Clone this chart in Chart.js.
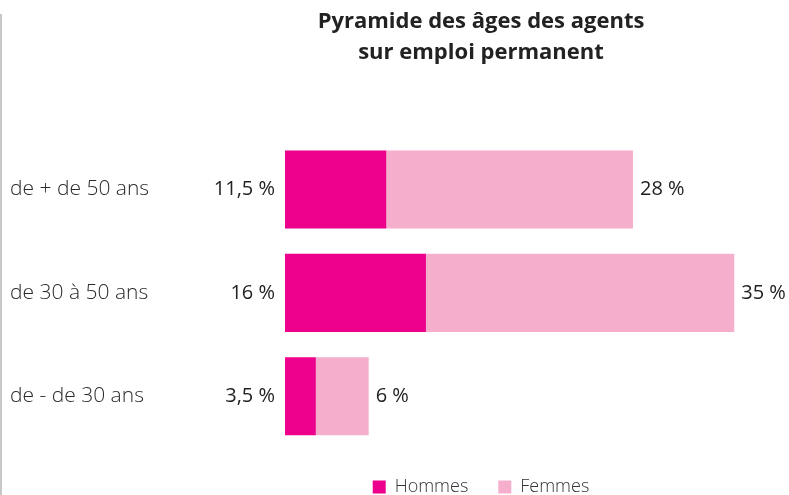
<!DOCTYPE html>
<html>
<head>
<meta charset="utf-8">
<script src="https://cdn.jsdelivr.net/npm/chart.js@4"></script>
<style>
  body { margin: 0; background: #fff; }
  #wrap { position: relative; width: 789px; height: 495px; }
  #rule { position: absolute; left: 0; top: 14px; bottom: 0; width: 2px; background: #c8c8c8; }
</style>
</head>
<body>
<div id="wrap">
  <div id="rule"></div>
  <canvas id="pyramide" width="789" height="495"></canvas>
</div>
<script>
const categories = ['de + de 50 ans', 'de 30 à 50 ans', 'de - de 30 ans'];
const hommes = [11.5, 16, 3.5];
const femmes = [28, 35, 6];
const titleLines = ['Pyramide des âges des agents', 'sur emploi permanent'];

const FONT = "'Open Sans', sans-serif";

function fmt(v) {
    return String(v).replace('.', ',') + ' %';
}

// valeurs à gauche (hommes) et à droite (femmes) des barres
const valueLabels = {
    id: 'valueLabels',
    afterDatasetsDraw(chart) {
        const ctx = chart.ctx;
        const mH = chart.getDatasetMeta(0);
        const mF = chart.getDatasetMeta(1);
        ctx.save();
        ctx.font = '20px ' + FONT;
        ctx.fillStyle = '#222';
        ctx.textBaseline = 'middle';
        mH.data.forEach((bar, i) => {
            ctx.textAlign = 'right';
            ctx.fillText(fmt(hommes[i]), bar.base - 10, bar.y);
        });
        mF.data.forEach((bar, i) => {
            ctx.textAlign = 'left';
            ctx.fillText(fmt(femmes[i]), bar.x + 7, bar.y);
        });
        ctx.restore();
    }
};

new Chart(document.getElementById('pyramide').getContext('2d'), {
    type: 'bar',
    data: {
        labels: categories,
        datasets: [{
            label: 'Hommes',
            data: hommes,
            backgroundColor: '#EC008C',
            clip: false
        }, {
            label: 'Femmes',
            data: femmes,
            backgroundColor: '#F5AECB',
            clip: false
        }]
    },
    options: {
        indexAxis: 'y',
        responsive: false,
        animation: false,
        categoryPercentage: 0.755,
        barPercentage: 1,
        layout: {
            padding: { left: 10, right: 112, top: 0, bottom: -11 }
        },
        scales: {
            x: {
                stacked: true,
                min: 0,
                max: 44.5,
                display: false
            },
            y: {
                stacked: true,
                grid: { display: false },
                border: { display: false },
                ticks: {
                    crossAlign: 'far',
                    color: '#2a2a2a',
                    font: { family: FONT, size: 21, weight: 300 }
                },
                afterFit(scale) {
                    scale.width = 275;
                }
            }
        },
        plugins: {
            title: {
                display: true,
                fullSize: false,
                text: titleLines,
                color: '#222',
                font: { family: FONT, size: 22, weight: 'bold', lineHeight: 1.38 },
                padding: { top: 7, bottom: 70 }
            },
            legend: {
                position: 'bottom',
                fullSize: false,
                labels: {
                    boxWidth: 13,
                    boxHeight: 13,
                    padding: 30,
                    color: '#333',
                    font: { family: FONT, size: 18, weight: 300 }
                }
            },
            tooltip: { enabled: false }
        }
    },
    plugins: [valueLabels]
});
</script>
</body>
</html>
